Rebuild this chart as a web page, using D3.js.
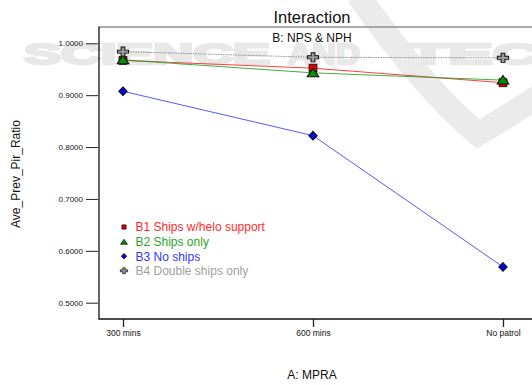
<!DOCTYPE html>
<html>
<head>
<meta charset="utf-8">
<script src="https://cdn.jsdelivr.net/npm/d3@7"></script>
<style>
  body { margin: 0; background: #fff; }
  svg { display: block; font-family: "Liberation Sans", Arial, sans-serif; }
</style>
</head>
<body>
<svg id="chart" width="532" height="385"></svg>
<script>
// data
const categories = ['300 mins', '600 mins', 'No patrol']
const seriesNames = ['B1 Ships w/helo support', 'B2 Ships only', 'B3 No ships', 'B4 Double ships only']
const b1Values = [0.967, 0.952, 0.924]
const b2Values = [0.968, 0.943, 0.929]
const b3Values = [0.9075, 0.822, 0.569]
const b4Values = [0.984, 0.973, 0.972]
const yTicks = [0.5, 0.6, 0.7, 0.8, 0.9, 1.0]

const lineColors = ['#ff2020', '#20a020', '#3a3aff', '#808080']
const textColors = ['#ff2a2a', '#2aa52a', '#3535ff', '#a0a0a0']
const fillColors = ['#e00000', '#009000', '#0000e0', '#9a9a9a']
const symbols = [d3.symbolSquare, d3.symbolTriangle, d3.symbolDiamond, d3.symbolCross]

let svg = d3.select('#chart')

let x = d3.scalePoint().domain(categories).range([123, 503])
let y = d3.scaleLinear().domain([0.5, 1.0]).range([302.7, 43.3])

// watermark behind the chart
svg.append('path')
  .attr('d', 'M358,-5 Q425,90 478,134 Q505,118 545,92')
  .attr('fill', 'none').attr('stroke', '#ebebeb').attr('stroke-width', 24)
let wm = svg.append('g').attr('fill', '#e8e8e8').attr('stroke', '#e8e8e8').attr('stroke-width', 2.5)
  .attr('font-weight', 'bold').attr('font-size', 30)
wm.append('text').attr('x', 24).attr('y', 64).attr('textLength', 246).attr('lengthAdjust', 'spacingAndGlyphs').text('SCIENCE')
wm.append('text').attr('x', 288).attr('y', 64).attr('textLength', 72).attr('lengthAdjust', 'spacingAndGlyphs').text('AND')
wm.append('text').attr('x', 408).attr('y', 64).attr('textLength', 180).attr('lengthAdjust', 'spacingAndGlyphs').text('TECH')

// frame
svg.append('line').attr('x1', 99).attr('x2', 532).attr('y1', 27).attr('y2', 27)
  .attr('stroke', '#909090').attr('stroke-width', 1.5)
svg.append('line').attr('x1', 99).attr('x2', 99).attr('y1', 26.5).attr('y2', 319)
  .attr('stroke', '#111').attr('stroke-width', 1.3)
svg.append('line').attr('x1', 98.5).attr('x2', 532).attr('y1', 319).attr('y2', 319)
  .attr('stroke', '#111').attr('stroke-width', 1.3)

// axes
let yAxis = svg.append('g').attr('transform', 'translate(98,0)')
  .call(d3.axisLeft(y).tickValues(yTicks).tickFormat(d3.format('.4f')).tickSize(12).tickPadding(3))
yAxis.select('.domain').remove()
yAxis.selectAll('line').attr('stroke', '#222')
yAxis.selectAll('text').attr('font-size', 8).attr('fill', '#111').attr('font-family', '"Liberation Sans", Arial, sans-serif')

let xAxis = svg.append('g').attr('transform', 'translate(0,319)')
  .call(d3.axisBottom(x).tickSize(8).tickPadding(3))
xAxis.select('.domain').remove()
xAxis.selectAll('line').attr('stroke', '#222').attr('stroke-width', 1.3)
xAxis.selectAll('text').attr('font-size', 8.5).attr('fill', '#111').attr('font-family', '"Liberation Sans", Arial, sans-serif')

// series
const allValues = [b1Values, b2Values, b3Values, b4Values]
let line = d3.line().x((d, i) => x(categories[i])).y(d => y(d))

allValues.forEach((vals, s) => {
  svg.append('path')
    .datum(vals)
    .attr('d', line)
    .attr('fill', 'none')
    .attr('stroke', lineColors[s])
    .attr('stroke-width', 1)
    .attr('stroke-opacity', 0.85)
    .attr('stroke-dasharray', s === 3 ? '1.5,1' : null)
})

let markerShape = (s, big) => {
  const sizes = big ? [62, 42, 34, 52] : [18, 14, 14, 22]
  return d3.symbol().type(symbols[s]).size(sizes[s])()
}
let markerTransform = (s, px, py) => {
  if (s === 2) return `translate(${px},${py}) scale(1.35,0.8)`
  if (s === 1) return `translate(${px},${py + 1}) scale(1.2,1)`
  if (s === 3) return `translate(${px},${py}) scale(1.15,0.95)`
  return `translate(${px},${py})`
}

allValues.forEach((vals, s) => {
  svg.append('g').selectAll('path')
    .data(vals)
    .enter()
    .append('path')
    .attr('d', markerShape(s, true))
    .attr('transform', (d, i) => markerTransform(s, x(categories[i]), y(d)))
    .attr('fill', fillColors[s])
    .attr('stroke', '#111')
    .attr('stroke-width', 0.9)
})

// legend
let legend = svg.append('g').attr('transform', 'translate(124,227)')
seriesNames.forEach((name, s) => {
  let row = legend.append('g').attr('transform', `translate(0,${s * 14.6})`)
  row.append('path')
    .attr('d', markerShape(s, false))
    .attr('transform', markerTransform(s, 0, 0))
    .attr('fill', fillColors[s])
    .attr('stroke', '#111')
    .attr('stroke-width', 0.7)
  row.append('text')
    .attr('x', 11.5)
    .attr('y', 4.3)
    .attr('font-size', 12)
    .attr('fill', textColors[s])
    .text(name)
})

// titles
svg.append('text').attr('x', 312).attr('y', 23).attr('text-anchor', 'middle')
  .attr('font-size', 16.5).attr('fill', '#111').text('Interaction')
svg.append('text').attr('x', 312).attr('y', 41.5).attr('text-anchor', 'middle')
  .attr('font-size', 12).attr('fill', '#111').text('B: NPS & NPH')
svg.append('text').attr('x', 312).attr('y', 379).attr('text-anchor', 'middle')
  .attr('font-size', 12).attr('fill', '#111').text('A: MPRA')
svg.append('text').attr('transform', 'translate(20,174) rotate(-90)').attr('text-anchor', 'middle')
  .attr('font-size', 12).attr('fill', '#111').text('Ave_Prev_Pir_Ratio')
</script>
</body>
</html>
